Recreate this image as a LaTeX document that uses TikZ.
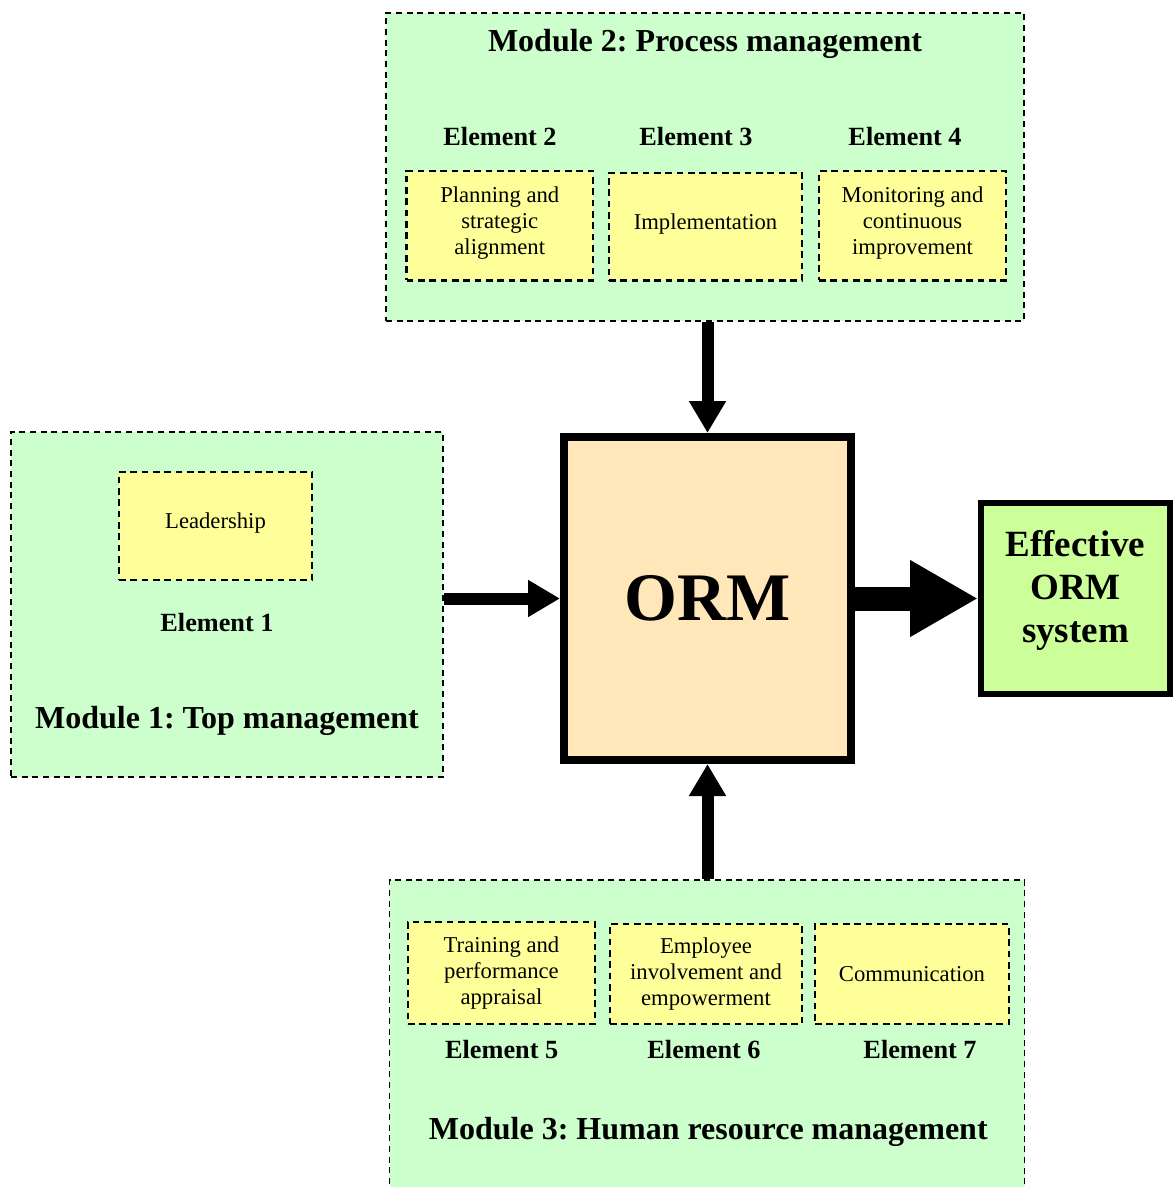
\documentclass[tikz,border=0pt]{standalone}
\usepackage{fontspec}
\setmainfont{Liberation Serif}
\frenchspacing
\usetikzlibrary{arrows.meta,fit}
\definecolor{modgreen}{HTML}{CCFFCC}
\definecolor{elemyellow}{HTML}{FFFF99}
\definecolor{ormpeach}{HTML}{FFE7BA}
\definecolor{effgreen}{HTML}{CCFF99}
\begin{document}
\begin{tikzpicture}[x=0.75pt,y=-0.75pt,
  modulebox/.style={draw=black, fill=modgreen, line width=1.4pt,
    dash pattern=on 4.5pt off 3.5pt, inner sep=0pt},
  elembox/.style={draw=black, fill=elemyellow, line width=1.6pt,
    dash pattern=on 5pt off 3.5pt, inner sep=0pt},
  elemtext/.style={align=center, inner sep=0pt, anchor=center,
    font=\fontsize{17}{19.5}\selectfont},
  modtitle/.style={font=\bfseries\fontsize{24}{28}\selectfont, anchor=base, inner sep=0pt},
  elemlabel/.style={font=\bfseries\fontsize{19.7}{24}\selectfont, anchor=base, inner sep=0pt},
  feed/.style={line width=9pt, -{Triangle[length=24pt,width=26.25pt]}},
]
\useasboundingbox (0,0) rectangle (1173,1187);
\clip (0,0) rectangle (1173,1187);

% module frames
\node[modulebox, fit={(386,13)(1024,321)}] (m2) {};
\node[modulebox, fit={(11,432)(443,777)}] (m1) {};
\node[modulebox, fit={(389.5,880)(1024.5,1200)}] (m3) {};

% module 2: process management
\node[modtitle] (t2) at (705,52) {Module 2: Process management};
\node[elemlabel] (l2) at (500,146) {Element 2};
\node[elemlabel] (l3) at (696,146) {Element 3};
\node[elemlabel] (l4) at (905,146) {Element 4};
\node[elembox, fit={(406.5,171)(593,280.5)}] (e2) {};
\node[elembox, fit={(609,173)(802,280.5)}] (e3) {};
\node[elembox, fit={(819,171)(1006,280.5)}] (e4) {};
\node[elemtext, yshift=2.2pt] (e2t) at (e2.center) {Planning and\\strategic\\alignment};
\node[elemtext, yshift=2.2pt] (e3t) at (e3.center) {Implementation};
\node[elemtext, yshift=2.2pt] (e4t) at (e4.center) {Monitoring and\\continuous\\improvement};

% module 1: top management
\node[elembox, fit={(119,472)(312,580)}] (e1) {};
\node[elemtext, yshift=2pt] (e1t) at (e1.center) {Leadership};
\node[elemlabel] (l1) at (217,631.7) {Element 1};
\node[modtitle] (t1) at (227,728.3) {Module 1: Top management};

% module 3: human resource management
\node[elembox, fit={(408,922)(595,1024)}] (e5) {};
\node[elembox, fit={(610,924)(802,1024)}] (e6) {};
\node[elembox, fit={(815,924)(1009,1024)}] (e7) {};
\node[elemtext] (e5t) at (e5.center) {Training and\\performance\\appraisal};
\node[elemtext] (e6t) at (e6.center) {Employee\\involvement and\\empowerment};
\node[elemtext] (e7t) at (e7.center) {Communication};
\node[elemlabel] (l5) at (501.7,1058.3) {Element 5};
\node[elemlabel] (l6) at (704,1058.3) {Element 6};
\node[elemlabel] (l7) at (920,1058.3) {Element 7};
\node[modtitle] (t3) at (708.3,1139.3) {Module 3: Human resource management};

% central block and outcome
\node[draw=black, line width=6pt, fill=ormpeach, inner sep=0pt,
  fit={(564,437)(851,760)}] (orm) {};
\node[inner sep=0pt, font=\bfseries\fontsize{51}{60}\selectfont] (ormt) at (orm.center) {ORM};
\node[draw=black, line width=4.5pt, fill=effgreen, inner sep=0pt,
  fit={(981,503)(1170,694)}] (eff) {};
\node[align=center, inner sep=0pt, font=\bfseries\fontsize{27.75}{32.25}\selectfont]
  (efftext) at (1075.5,590.5) {Effective\\ORM\\system};

% connectors
\draw[feed] (m2.south -| orm.north) -- (orm.north);
\draw[feed] (m1.east |- orm.west) -- (orm.west);
\draw[feed] (m3.north -| orm.south) -- (orm.south);
\draw[line width=18pt, -{Triangle[length=51pt,width=54pt]}]
  (orm.east) -- (orm.east -| eff.west);
\end{tikzpicture}
\end{document}
